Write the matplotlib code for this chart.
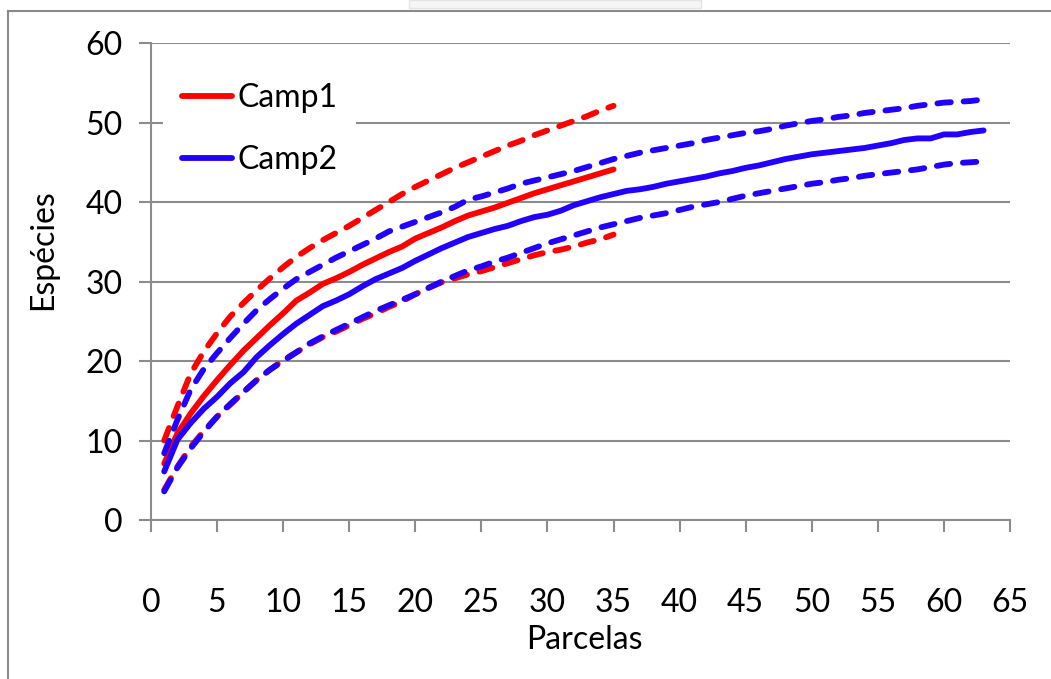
import matplotlib
matplotlib.use('Agg')
import matplotlib.pyplot as plt
from matplotlib.lines import Line2D
from matplotlib.patches import Rectangle

plt.rcParams['font.family'] = ['Lato', 'DejaVu Sans']

# parcel number (x) for each campaign
parcelas_c1 = list(range(1, 36))
parcelas_c2 = list(range(1, 64))

# Camp1: mean accumulated species and the upper / lower dashed bounds
camp1_media = [7.1, 10.9, 13.4, 15.6, 17.6, 19.5, 21.3, 22.9, 24.5, 26.0,
               27.6, 28.6, 29.7, 30.4, 31.2, 32.1, 32.9, 33.7, 34.4, 35.4,
               36.1, 36.8, 37.6, 38.3, 38.8, 39.3, 39.9, 40.5, 41.1, 41.6,
               42.1, 42.6, 43.1, 43.6, 44.1]
camp1_sup = [10.0, 14.3, 18.4, 21.2, 23.5, 25.6, 27.3, 28.9, 30.4, 31.8,
             33.1, 34.2, 35.2, 36.1, 37.0, 38.0, 39.0, 40.0, 41.0, 41.9,
             42.7, 43.5, 44.3, 45.0, 45.7, 46.4, 47.1, 47.7, 48.4, 49.0,
             49.6, 50.2, 50.8, 51.5, 52.1]
camp1_inf = [3.8, 6.7, 9.2, 11.2, 13.0, 14.5, 16.1, 17.6, 18.9, 20.1,
             21.1, 22.1, 23.0, 23.7, 24.5, 25.3, 26.0, 26.8, 27.5, 28.4,
             29.2, 29.9, 30.4, 30.9, 31.3, 31.8, 32.3, 32.8, 33.3, 33.7,
             34.0, 34.4, 34.9, 35.3, 35.9]

# Camp2
camp2_media = [6.1, 10.1, 12.2, 14.0, 15.5, 17.2, 18.6, 20.5, 22.0, 23.4,
               24.7, 25.8, 26.9, 27.6, 28.4, 29.4, 30.3, 31.0, 31.7, 32.6,
               33.4, 34.2, 34.9, 35.6, 36.1, 36.6, 37.0, 37.6, 38.1, 38.4,
               38.9, 39.6, 40.1, 40.6, 41.0, 41.4, 41.6, 41.9, 42.3, 42.6,
               42.9, 43.2, 43.6, 43.9, 44.3, 44.6, 45.0, 45.4, 45.7, 46.0,
               46.2, 46.4, 46.6, 46.8, 47.1, 47.4, 47.8, 48.0, 48.0, 48.5,
               48.5, 48.8, 49.0]
camp2_sup = [8.4, 12.6, 16.4, 19.0, 21.0, 22.9, 24.7, 26.4, 27.8, 29.1,
             30.3, 31.2, 32.1, 33.0, 33.8, 34.6, 35.4, 36.3, 36.9, 37.5,
             38.1, 38.7, 39.4, 40.3, 40.7, 41.2, 41.7, 42.3, 42.7, 43.1,
             43.5, 43.9, 44.4, 44.9, 45.4, 45.8, 46.2, 46.5, 46.8, 47.1,
             47.4, 47.8, 48.1, 48.4, 48.7, 48.9, 49.2, 49.6, 49.9, 50.2,
             50.4, 50.7, 50.9, 51.2, 51.4, 51.6, 51.8, 52.1, 52.3, 52.5,
             52.6, 52.7, 52.9]
camp2_inf = [3.6, 6.6, 9.0, 11.1, 13.0, 14.6, 16.1, 17.6, 18.9, 20.0,
             21.1, 22.2, 23.1, 23.9, 24.7, 25.5, 26.3, 27.0, 27.7, 28.4,
             29.2, 30.0, 30.7, 31.4, 31.9, 32.5, 33.0, 33.6, 34.2, 34.8,
             35.3, 35.8, 36.3, 36.8, 37.2, 37.6, 38.0, 38.3, 38.6, 39.0,
             39.4, 39.7, 40.0, 40.4, 40.8, 41.1, 41.4, 41.7, 42.0, 42.3,
             42.5, 42.8, 43.0, 43.3, 43.5, 43.7, 43.9, 44.1, 44.4, 44.7,
             44.9, 45.0, 45.1]

RED = '#ff0000'
BLUE = '#2200ff'
GRAY = '#8c8c8c'
FS = 23

W, H = 1051, 679
fig = plt.figure(figsize=(W / 100, H / 100), dpi=100)
ax = fig.add_axes([151 / W, 1 - 520 / H, (1010 - 151) / W, (520 - 43) / H])

lw = 4.2
dash = dict(dashes=(2.3, 2.2), dash_capstyle='round')
ax.plot(parcelas_c1, camp1_media, color=RED, lw=lw, solid_capstyle='round', label='Camp1')
ax.plot(parcelas_c1, camp1_sup, color=RED, lw=lw, **dash)
ax.plot(parcelas_c1, camp1_inf, color=RED, lw=lw, **dash)
ax.plot(parcelas_c2, camp2_media, color=BLUE, lw=lw, solid_capstyle='round', label='Camp2')
ax.plot(parcelas_c2, camp2_sup, color=BLUE, lw=lw, **dash)
ax.plot(parcelas_c2, camp2_inf, color=BLUE, lw=lw, **dash)

ax.set_xlim(0, 65)
ax.set_ylim(0, 60)
ax.set_xticks(range(0, 66, 5))
ax.set_yticks(range(0, 61, 10))
ax.yaxis.grid(True, color=GRAY, lw=1.5)
ax.set_axisbelow(True)
for s in ['top', 'right']:
    ax.spines[s].set_visible(False)
for s in ['left', 'bottom']:
    ax.spines[s].set_color(GRAY)
    ax.spines[s].set_linewidth(1.5)
ax.tick_params(axis='x', direction='out', length=8.6, width=1.5, color=GRAY,
               pad=40, labelsize=FS)
ax.tick_params(axis='y', direction='out', length=8.6, width=1.5, color=GRAY,
               pad=12, labelsize=FS)

ax.set_xlabel('Parcelas', fontsize=FS)
ax.xaxis.set_label_coords((584 - 151) / 859, (520 - 640) / 477)
ax.xaxis.label.set_va('center')
ax.set_ylabel('Espécies', fontsize=FS)
ax.yaxis.set_label_coords((43 - 151) / 859, (520 - 250) / 477)
ax.yaxis.label.set_va('center')

leg = ax.legend(loc='upper left', bbox_to_anchor=((163 - 151) / 859, (520 - 64) / 477),
                borderaxespad=0, fontsize=FS, handlelength=1.56, handletextpad=0.16,
                borderpad=0.6, labelspacing=1.0, frameon=True, fancybox=False)
leg.get_frame().set_edgecolor('none')
leg.get_frame().set_facecolor('white')
leg.get_frame().set_alpha(1)

# outer chart border (clipped at right and bottom) and faint box at the top
fig.add_artist(Line2D([8 / W, 1], [1 - 11 / H, 1 - 11 / H], color='#8a8a8a', lw=1.5))
fig.add_artist(Line2D([8 / W, 8 / W], [0, 1 - 11 / H], color='#8a8a8a', lw=1.5))
fig.add_artist(Rectangle((409 / W, 1 - 8 / H), (701 - 409) / W, 8 / H,
                         facecolor='#f6f6f6', edgecolor='#e4e4e4', lw=1))

fig.savefig('out.png', dpi=100)
